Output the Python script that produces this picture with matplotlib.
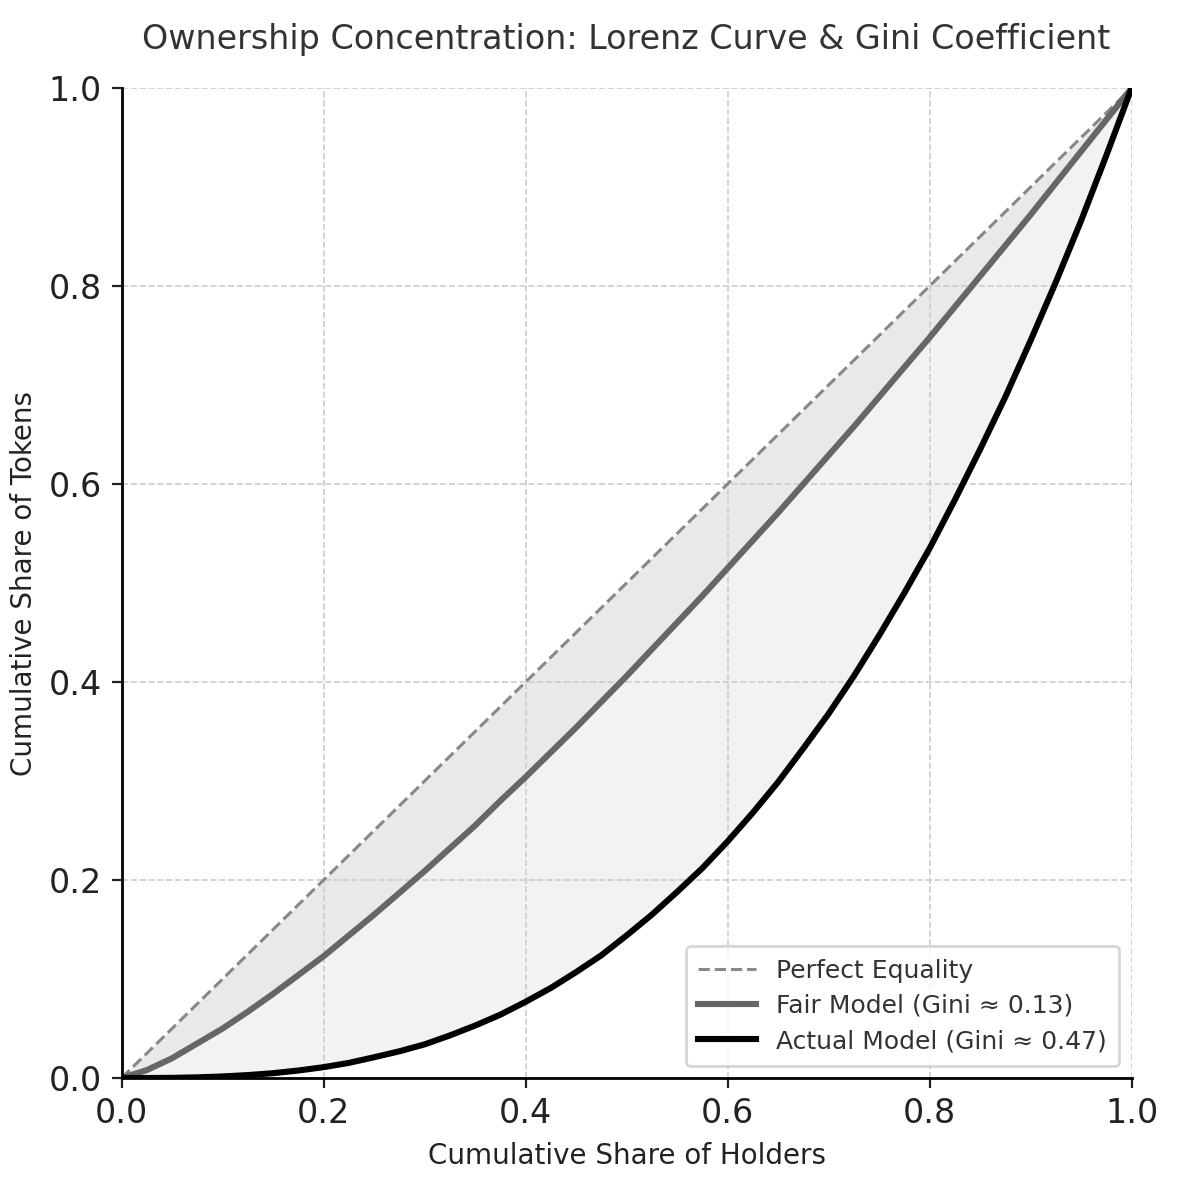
import matplotlib.pyplot as plt

# cumulative share of holders (x) and read-off Lorenz values
holders = [0.0, 0.025, 0.05, 0.075, 0.10, 0.125, 0.15, 0.175, 0.20, 0.225, 0.25,
           0.275, 0.30, 0.325, 0.35, 0.375, 0.40, 0.425, 0.45, 0.475, 0.50,
           0.525, 0.55, 0.575, 0.60, 0.625, 0.65, 0.675, 0.70, 0.725, 0.75,
           0.775, 0.80, 0.825, 0.85, 0.875, 0.90, 0.925, 0.95, 0.975, 1.0]
equality = list(holders)
fair = [0.0, 0.008, 0.020, 0.035, 0.050, 0.067, 0.085, 0.104, 0.123, 0.144, 0.165,
        0.187, 0.209, 0.232, 0.255, 0.280, 0.304, 0.329, 0.354, 0.380, 0.406,
        0.433, 0.460, 0.487, 0.515, 0.543, 0.571, 0.600, 0.629, 0.658, 0.688,
        0.718, 0.748, 0.779, 0.810, 0.841, 0.872, 0.904, 0.936, 0.968, 1.0]
actual = [0.0, 0.00003, 0.0002, 0.0007, 0.0016, 0.003, 0.0049, 0.0076, 0.011, 0.0153, 0.021,
          0.027, 0.034, 0.043, 0.053, 0.064, 0.077, 0.091, 0.107, 0.124, 0.144,
          0.165, 0.188, 0.212, 0.239, 0.268, 0.299, 0.333, 0.368, 0.406, 0.447,
          0.490, 0.535, 0.584, 0.635, 0.688, 0.745, 0.804, 0.866, 0.932, 1.0]

labels = ["Perfect Equality", "Fair Model (Gini \u2248 0.13)", "Actual Model (Gini \u2248 0.47)"]

fig = plt.figure(figsize=(5.9, 5.9), dpi=200)
ax = fig.add_axes([0.103, 0.0864, 0.856, 0.839])

ax.fill_between(holders, fair, equality, color="#e9e9e9", lw=0, zorder=1)
ax.fill_between(holders, actual, fair, color="#f2f2f2", lw=0, zorder=1)

ax.plot(holders, equality, ls="--", color="#888888", lw=1.1, label=labels[0], zorder=3)
ax.plot(holders, fair, color="#666666", lw=2.2, label=labels[1], zorder=3,
        solid_joinstyle="round")
ax.plot(holders, actual, color="black", lw=2.2, label=labels[2], zorder=3,
        solid_joinstyle="round")

ax.set_xlim(0, 1)
ax.set_ylim(0, 1)
ax.grid(True, ls="--", lw=0.6, color="#cccccc", zorder=2)
ax.set_axisbelow(False)
for s in ["top", "right"]:
    ax.spines[s].set_visible(False)
for s in ["left", "bottom"]:
    ax.spines[s].set_zorder(5)
    ax.spines[s].set_linewidth(1.0)
ax.tick_params(labelsize=12, colors="#222222")

ax.set_title("Ownership Concentration: Lorenz Curve & Gini Coefficient", fontsize=12, color="#333333", pad=14)
ax.set_xlabel("Cumulative Share of Holders", fontsize=10, color="#222222")
ax.set_ylabel("Cumulative Share of Tokens", fontsize=10, color="#222222")

leg = ax.legend(loc="lower right", fontsize=9, frameon=True, fancybox=True,
                borderpad=0.5, labelspacing=0.45, handlelength=2.3)
for t in leg.get_texts():
    t.set_color("#333333")

fig.savefig("out.png", dpi=200)
